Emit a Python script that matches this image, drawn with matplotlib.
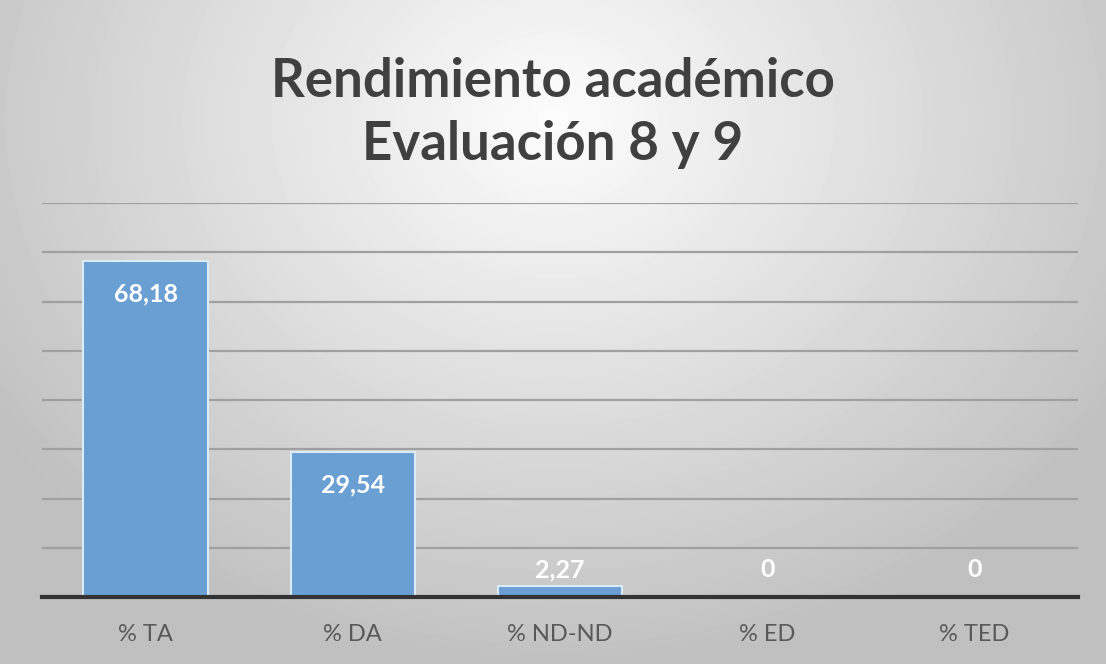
import numpy as np
import matplotlib
matplotlib.use("Agg")
import matplotlib.pyplot as plt

categories = ["% TA", "% DA", "% ND-ND", "% ED", "% TED"]
values = [68.18, 29.54, 2.27, 0, 0]
value_labels = ["68,18", "29,54", "2,27", "0", "0"]
title_text = "Rendimiento académico\nEvaluación 8 y 9"

bar_color = "#6A9FD4"
grid_color = "#A0A0A0"
text_color = "#404040"

fig = plt.figure(figsize=(11.06, 6.64), dpi=100)

# radial grey background like the office chart style
bg = fig.add_axes([0, 0, 1, 1], zorder=-10)
yy, xx = np.mgrid[0:664, 0:1106]
r = np.sqrt(((xx - 553) / 680.0) ** 2 + ((yy - 120) / 560.0) ** 2)
shade = np.clip(0.99 - 0.24 * r, 0.75, 1.0)
bg.imshow(shade, cmap="gray", vmin=0, vmax=1, aspect="auto", interpolation="bilinear")
bg.axis("off")

ax = fig.add_axes([0.038, 0.1009, 0.9367, 0.5931])
ax.patch.set_alpha(0)

x = np.arange(len(categories))
ax.bar(x, values, width=0.6, color=bar_color, edgecolor="#DCEBF8", linewidth=1.5, zorder=3)

ax.set_xlim(-0.5, len(categories) - 0.5)
ax.set_ylim(0, 80)
ax.set_yticks(np.arange(0, 81, 10))
ax.yaxis.grid(True, color=grid_color, linewidth=1.6, zorder=0)
ax.set_axisbelow(True)
ax.tick_params(axis="y", left=False, labelleft=False)
ax.tick_params(axis="x", bottom=False, pad=16)
ax.set_xticks(x)
ax.set_xticklabels(categories, fontsize=17, color="#595959", family="Lato")
for s in ["top", "right", "left"]:
    ax.spines[s].set_visible(False)
ax.spines["bottom"].set_color("#333333")
ax.spines["bottom"].set_linewidth(3)
ax.spines["bottom"].set_zorder(4)

for xi, v, lab in zip(x, values, value_labels):
    ypos = max(v - 6.7, 5.5)
    ax.text(xi, ypos, lab, ha="center", va="center", color="white",
            fontsize=18, fontweight="bold", family="Lato", zorder=5)

fig.text(0.5, 0.83, title_text, ha="center", va="center", fontsize=38,
         fontweight="bold", color=text_color, family="Lato", linespacing=1.35)

fig.savefig("out.png", dpi=100)
